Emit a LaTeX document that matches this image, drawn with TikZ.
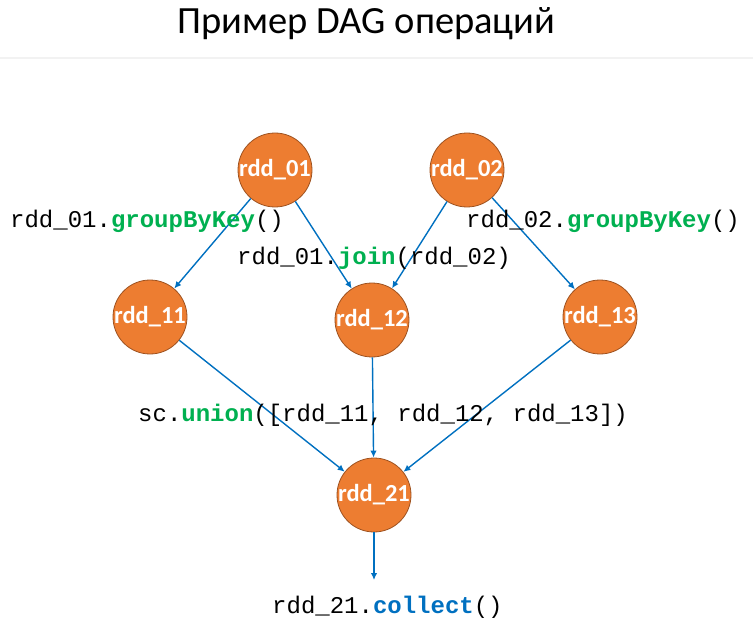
\documentclass[tikz,border=0pt]{standalone}
\usepackage{fontspec}
\setmainfont{Carlito}
\newfontfamily\codefont{Liberation Mono}
\usetikzlibrary{arrows.meta}

\definecolor{rddfill}{HTML}{ED7D31}
\definecolor{rddedge}{HTML}{9E5220}
\definecolor{flowblue}{HTML}{0070C0}
\definecolor{opgreen}{HTML}{00B050}
\definecolor{rulegray}{HTML}{F2F2F2}

\newcommand{\opcall}[2]{\textcolor{#1}{\bfseries #2}}

\begin{document}
\begin{tikzpicture}[x = 1pt, y = -1pt,
    rdd/.style = {circle, draw = rddedge, line width = 0.8pt, fill = rddfill,
      minimum size = 74pt, inner sep = -6pt, text = white,
      font = \fontsize{24.5}{24.5}\selectfont\bfseries},
    flow/.style = {draw = flowblue, line width = 1.4pt,
      -{Latex[length = 7pt, width = 6.5pt]}},
    code/.style = {font = \codefont\fontsize{24}{24}\selectfont,
      inner sep = 0pt, anchor = base west}]
    \useasboundingbox (0, 0) rectangle (753, 623);

    \node[anchor = base, font = \fontsize{38.5}{38.5}\selectfont]
      (title) at (366.5, 34) {Пример DAG операций};
    \draw[draw = rulegray, line width = 2pt] (0, 58) -- (753, 58);

    \node[rdd] (r01) at (275, 170) {rdd\_01};
    \node[rdd] (r02) at (467, 170) {rdd\_02};
    \node[rdd] (r11) at (150, 317) {rdd\_11};
    \node[rdd] (r12) at (372, 320) {rdd\_12};
    \node[rdd] (r13) at (600, 317) {rdd\_13};
    \node[rdd] (r21) at (374, 495) {rdd\_21};
    \coordinate (out) at (374, 580);

    \draw[flow] (r01) -- (r11);
    \draw[flow] (r01) -- (r12);
    \draw[flow] (r02) -- (r12);
    \draw[flow] (r02) -- (r13);
    \draw[flow] (r11) -- (r21);
    \draw[flow] (r12) -- (r21);
    \draw[flow] (r13) -- (r21);
    \draw[flow] (r21) -- (out);

    \node[code] (group01) at (10, 227)
      {rdd\_01.\opcall{opgreen}{groupByKey}()};
    \node[code] (group02) at (466, 227)
      {rdd\_02.\opcall{opgreen}{groupByKey}()};
    \node[code] (join) at (237, 265)
      {rdd\_01.\opcall{opgreen}{join}(rdd\_02)};
    \node[code] (union) at (138, 421)
      {sc.\opcall{opgreen}{union}([rdd\_11, rdd\_12, rdd\_13])};
    \node[code] (collect) at (272, 613)
      {rdd\_21.\opcall{flowblue}{collect}()};
  \end{tikzpicture}
\end{document}
